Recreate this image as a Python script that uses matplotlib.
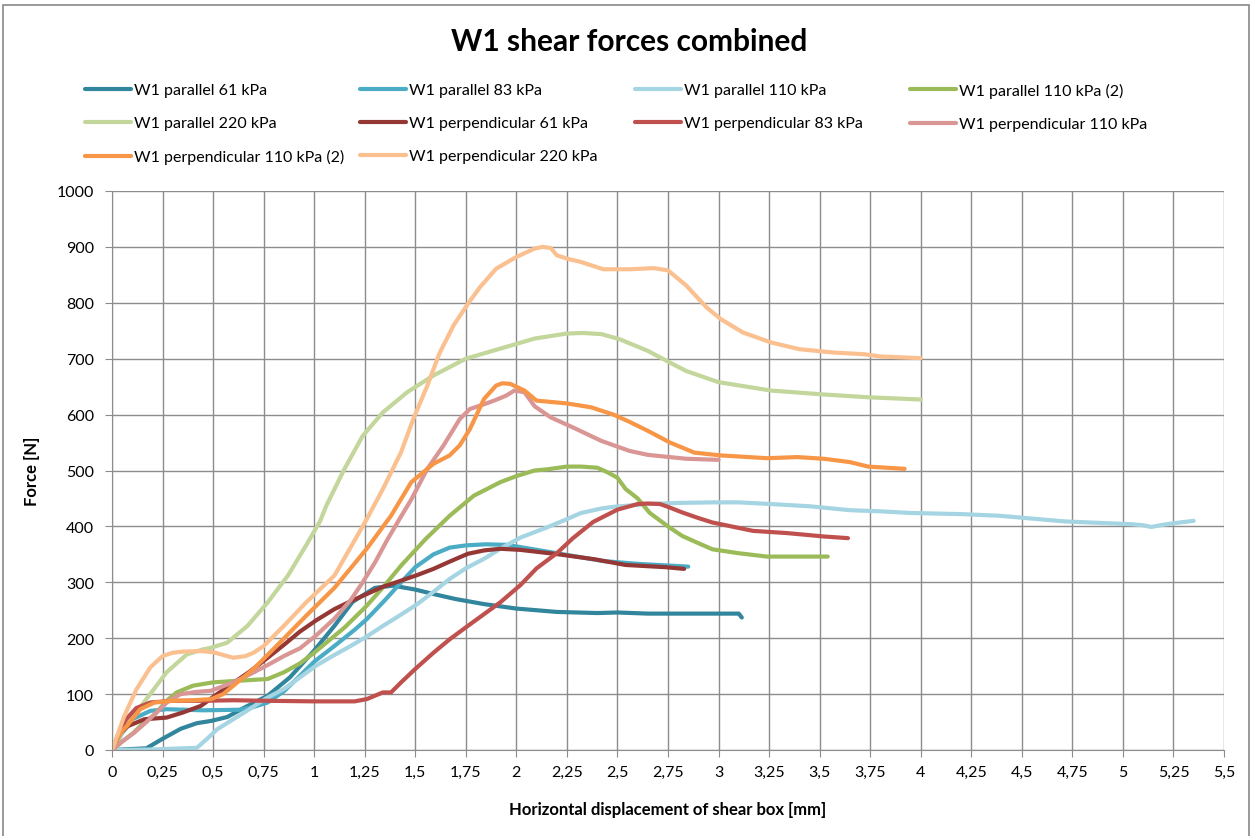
import matplotlib
matplotlib.use("Agg")
import matplotlib.pyplot as plt
from matplotlib.patches import Rectangle

plt.rcParams['font.family'] = ['Lato', 'DejaVu Sans']

labels = ["W1 parallel 61 kPa", "W1 parallel 83 kPa", "W1 parallel 110 kPa", "W1 parallel 110 kPa (2)",
          "W1 parallel 220 kPa", "W1 perpendicular 61 kPa", "W1 perpendicular 83 kPa", "W1 perpendicular 110 kPa",
          "W1 perpendicular 110 kPa (2)", "W1 perpendicular 220 kPa"]
colors = ["#31859C", "#4BACC6", "#A5D5E2", "#9BBB59", "#C3D69B",
          "#953735", "#C0504D", "#D99694", "#F79646", "#FAC090"]

# displacement [mm] / force [N]
par61_x = [0, 0.17, 0.25, 0.34, 0.42, 0.49, 0.57, 0.65, 0.77, 0.88, 1.0, 1.1, 1.19, 1.3, 1.39, 1.5, 1.59, 1.7,
           1.84, 2.0, 2.2, 2.4, 2.5, 2.65, 2.8, 3.0, 3.1, 3.115]
par61_y = [0, 3, 20, 38, 48, 52, 59, 75, 97, 130, 178, 222, 265, 290, 294, 287, 279, 270,
           261, 253, 247, 245, 246, 244, 244, 244, 244, 237]

par83_x = [0, 0.05, 0.1, 0.19, 0.27, 0.45, 0.63, 0.7, 0.77, 0.85, 0.93, 1.0, 1.1, 1.2, 1.26, 1.35, 1.43, 1.5,
           1.59, 1.67, 1.75, 1.85, 1.95, 2.02, 2.2, 2.43, 2.6, 2.85]
par83_y = [0, 30, 55, 70, 73, 71, 72, 77, 85, 105, 133, 158, 186, 215, 234, 268, 300, 327,
           350, 362, 366, 368, 367, 363, 352, 338, 333, 328]

par110_x = [0, 0.2, 0.42, 0.47, 0.52, 0.6, 0.68, 0.76, 0.85, 0.93, 1.01, 1.1, 1.18, 1.26, 1.34, 1.42, 1.51,
            1.59, 1.67, 1.75, 1.84, 1.93, 2.02, 2.15, 2.25, 2.32, 2.42, 2.48, 2.65, 2.8, 2.97, 3.1, 3.26, 3.45,
            3.65, 3.8, 3.95, 4.2, 4.39, 4.55, 4.71, 4.9, 5.04, 5.1, 5.14, 5.2, 5.26, 5.35]
par110_y = [0, 1, 4, 20, 37, 55, 73, 92, 109, 130, 151, 170, 186, 203, 222, 240, 261,
            283, 306, 325, 342, 362, 380, 398, 413, 424, 432, 435, 440, 442, 443, 443, 440, 436,
            429, 427, 424, 422, 419, 414, 409, 406, 404, 402, 399, 403, 406, 410]

par110b_x = [0, 0.05, 0.107, 0.16, 0.21, 0.27, 0.32, 0.4, 0.5, 0.63, 0.77, 0.85, 0.93, 1.0, 1.07, 1.15, 1.26,
             1.35, 1.43, 1.55, 1.67, 1.79, 1.92, 2.0, 2.09, 2.15, 2.25, 2.32, 2.4, 2.45, 2.5, 2.54, 2.6, 2.66,
             2.75, 2.82, 2.9, 2.97, 3.1, 3.24, 3.4, 3.54]
par110b_y = [0, 15, 31, 50, 63, 88, 103, 115, 121, 124, 127, 139, 155, 174, 195, 219, 258,
             295, 330, 377, 419, 455, 479, 490, 500, 502, 507, 507, 505, 497, 487, 467, 450, 424,
             400, 383, 370, 359, 352, 346, 346, 346]

par220_x = [0, 0.07, 0.17, 0.27, 0.37, 0.45, 0.49, 0.57, 0.67, 0.77, 0.87, 0.96, 1.03, 1.06, 1.15, 1.24, 1.34,
            1.46, 1.59, 1.75, 1.92, 2.09, 2.25, 2.33, 2.42, 2.51, 2.65, 2.76, 2.84, 3.0, 3.26, 3.52, 3.74, 4.0]
par220_y = [0, 43, 91, 139, 171, 180, 183, 192, 222, 264, 312, 366, 410, 437, 503, 562, 604,
            640, 670, 700, 718, 736, 745, 746, 744, 735, 714, 693, 678, 658, 643, 636, 631, 627]

perp61_x = [0, 0.04, 0.08, 0.16, 0.27, 0.35, 0.44, 0.52, 0.6, 0.68, 0.77, 0.85, 0.93, 1.01, 1.1, 1.18, 1.26,
            1.34, 1.43, 1.51, 1.59, 1.67, 1.76, 1.84, 1.92, 2.02, 2.21, 2.39, 2.54, 2.74, 2.83]
perp61_y = [0, 30, 43, 55, 58, 67, 79, 100, 120, 140, 165, 188, 212, 232, 252, 266, 279,
            292, 303, 313, 324, 337, 351, 357, 360, 358, 350, 341, 331, 327, 324]

perp83_x = [0, 0.04, 0.07, 0.12, 0.19, 0.3, 0.44, 0.6, 0.77, 1.0, 1.2, 1.26, 1.3, 1.34, 1.38, 1.43, 1.5,
            1.59, 1.67, 1.76, 1.84, 1.92, 2.02, 2.1, 2.2, 2.28, 2.38, 2.5, 2.6, 2.65, 2.71, 2.75, 2.82, 2.9,
            2.97, 3.17, 3.34, 3.52, 3.64]
perp83_y = [0, 35, 55, 75, 85, 88, 88, 89, 88, 87, 87, 91, 97, 103, 103, 121, 145,
            174, 198, 222, 243, 264, 295, 325, 352, 379, 408, 430, 440, 441, 440, 435, 425, 415,
            407, 392, 388, 382, 379]

perp110_x = [0, 0.05, 0.11, 0.17, 0.22, 0.28, 0.34, 0.42, 0.49, 0.6, 0.68, 0.77, 0.85, 0.93, 1.01, 1.1, 1.18,
             1.24, 1.3, 1.36, 1.42, 1.48, 1.56, 1.64, 1.72, 1.77, 1.82, 1.89, 1.95, 1.99, 2.04, 2.09, 2.17,
             2.28, 2.42, 2.56, 2.65, 2.84, 3.0]
perp110_y = [0, 15, 31, 50, 67, 88, 100, 104, 106, 121, 135, 152, 168, 182, 205, 235, 268,
             300, 335, 375, 412, 448, 503, 545, 592, 610, 616, 625, 634, 643, 640, 615, 595,
             577, 553, 535, 528, 521, 519]

perp110b_x = [0, 0.04, 0.074, 0.14, 0.21, 0.3, 0.4, 0.49, 0.55, 0.6, 0.7, 0.83, 0.96, 1.1, 1.26, 1.38, 1.48,
              1.59, 1.67, 1.72, 1.77, 1.84, 1.9, 1.93, 1.97, 2.04, 2.1, 2.25, 2.37, 2.48, 2.56, 2.65, 2.76,
              2.88, 3.01, 3.24, 3.39, 3.52, 3.65, 3.74, 3.92]
perp110b_y = [0, 30, 43, 73, 85, 88, 89, 91, 100, 115, 145, 192, 240, 290, 360, 419, 479,
              512, 527, 545, 574, 628, 652, 656, 655, 643, 625, 620, 613, 600, 587, 571, 550,
              532, 527, 522, 524, 521, 515, 507, 503]

perp220_x = [0, 0.03, 0.06, 0.12, 0.19, 0.25, 0.3, 0.35, 0.44, 0.5, 0.56, 0.6, 0.66, 0.7, 0.75, 0.85, 0.96,
             1.1, 1.2, 1.26, 1.34, 1.43, 1.49, 1.56, 1.62, 1.69, 1.76, 1.82, 1.9, 2.0, 2.09, 2.13, 2.17, 2.2,
             2.25, 2.32, 2.43, 2.56, 2.68, 2.75, 2.84, 2.94, 3.01, 3.12, 3.26, 3.4, 3.57, 3.72, 3.8, 4.0]
perp220_y = [0, 30, 60, 108, 148, 168, 174, 176, 177, 175, 169, 165, 168, 174, 186, 222, 264,
             312, 375, 413, 467, 533, 592, 652, 710, 760, 798, 828, 861, 882, 897, 900, 898, 885,
             879, 873, 860, 860, 862, 858, 831, 792, 771, 747, 729, 717, 711, 708, 704, 701]

series = [(par61_x, par61_y), (par83_x, par83_y), (par110_x, par110_y), (par110b_x, par110b_y),
          (par220_x, par220_y), (perp61_x, perp61_y), (perp83_x, perp83_y), (perp110_x, perp110_y),
          (perp110b_x, perp110b_y), (perp220_x, perp220_y)]

x_ticks = [i * 0.25 for i in range(23)]
y_ticks = list(range(0, 1001, 100))

fig = plt.figure(figsize=(12.54, 8.37), dpi=100)
ax = fig.add_axes([112 / 1254, 1 - 751 / 837, (1224 - 112) / 1254, (751 - 192) / 837])

lines = []
for (xs, ys), lab, col in zip(series, labels, colors):
    ln, = ax.plot(xs, ys, color=col, lw=3, label=lab, solid_capstyle='round', solid_joinstyle='round')
    lines.append(ln)

ax.set_xlim(0, 5.5)
ax.set_ylim(0, 1000)
ax.set_xticks(x_ticks)
ax.set_xticklabels([('%g' % v).replace('.', ',') for v in x_ticks])
ax.set_yticks(y_ticks)
ax.grid(True, color='#8c8c8c', lw=1)
ax.set_axisbelow(True)
for s in ax.spines.values():
    s.set_visible(False)
ax.spines['left'].set_visible(True)
ax.spines['bottom'].set_visible(True)
ax.spines['left'].set_color('#8c8c8c')
ax.spines['bottom'].set_color('#8c8c8c')
ax.tick_params(direction='out', length=5, color='#8c8c8c', labelsize=11.5, pad=6)
ax.tick_params(axis='y', pad=8)
ax.set_xlabel("Horizontal displacement of shear box [mm]", fontsize=12, fontweight='bold', labelpad=16)
ax.set_ylabel("Force [N]", fontsize=12, fontweight='bold', labelpad=12)

fig.text(0.502, 1 - 42 / 837, "W1 shear forces combined", ha='center', va='center', fontsize=21.5, fontweight='bold')

# Excel-style legend: 4 evenly spaced columns, filled row by row
col_x = [85, 360, 635, 910]
for c in range(4):
    idx = list(range(c, 10, 4))
    fig.legend([lines[i] for i in idx], [labels[i] for i in idx], loc='upper left',
               bbox_to_anchor=(col_x[c] / 1254, 1 - 84 / 837), frameon=False, fontsize=11.5,
               handlelength=2.9, handletextpad=0.15, labelspacing=1.18, borderpad=0, borderaxespad=0)

fig.add_artist(Rectangle((0.002, -0.01), 0.994, 1.003, transform=fig.transFigure,
                         fill=False, edgecolor='#888888', lw=1.2))

fig.savefig("out.png", dpi=100)
